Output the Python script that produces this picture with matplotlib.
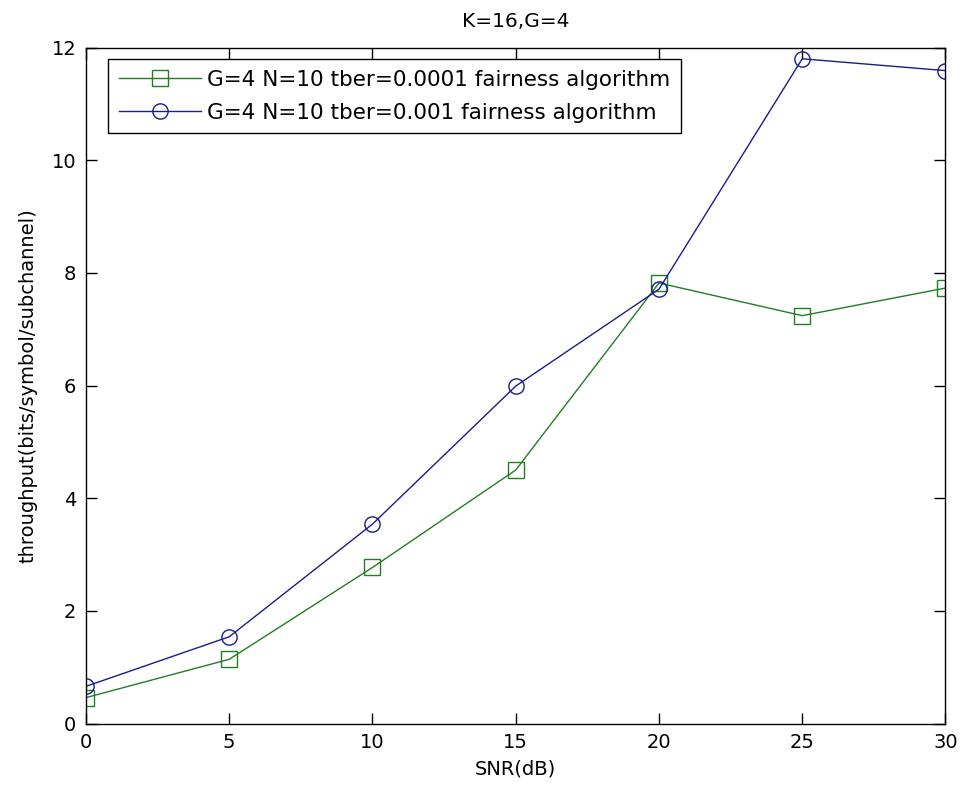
import matplotlib
matplotlib.use("Agg")
import matplotlib.pyplot as plt

plt.rcParams['font.family'] = ['DejaVu Sans']

snr = [0, 5, 10, 15, 20, 25, 30]
thr_1e4 = [0.46, 1.14, 2.77, 4.50, 7.82, 7.24, 7.73]
thr_1e3 = [0.66, 1.54, 3.54, 5.99, 7.71, 11.80, 11.59]
labels = ["G=4 N=10 tber=0.0001 fairness algorithm",
          "G=4 N=10 tber=0.001 fairness algorithm"]

fig = plt.figure(figsize=(9.64, 8.0), dpi=100)
ax = fig.add_axes([0.0892, 0.0956, 0.8916, 0.845])

ax.plot(snr, thr_1e4, color='#237d23', lw=1.0, marker='s', ms=12,
        mfc='none', mew=1.0, label=labels[0])
ax.plot(snr, thr_1e3, color='#1c1c8a', lw=1.0, marker='o', ms=11,
        mfc='none', mew=1.0, label=labels[1])

ax.set_xlim(0, 30)
ax.set_ylim(0, 12)
ax.set_xticks(range(0, 31, 5))
ax.set_yticks(range(0, 13, 2))
ax.tick_params(direction='in', length=8, width=1, top=True, right=True,
               labelsize=14, pad=7)
for s in ax.spines.values():
    s.set_linewidth(1.0)

ax.set_title("K=16,G=4", fontsize=14.5, pad=15)
ax.set_xlabel("SNR(dB)", fontsize=14, labelpad=5)
ax.set_ylabel("throughput(bits/symbol/subchannel)", fontsize=14, labelpad=10)

# legend box pinned just inside the top-left corner
leg = ax.legend(loc='upper left', bbox_to_anchor=(0.0256, 0.983),
                borderaxespad=0, fontsize=15.5, handlelength=3.8,
                markerscale=1.0, fancybox=False, framealpha=1,
                edgecolor='black', labelspacing=0.6,
                borderpad=0.5, handletextpad=0.3)
leg.get_frame().set_linewidth(1.0)

fig.savefig("out.png", dpi=100)
